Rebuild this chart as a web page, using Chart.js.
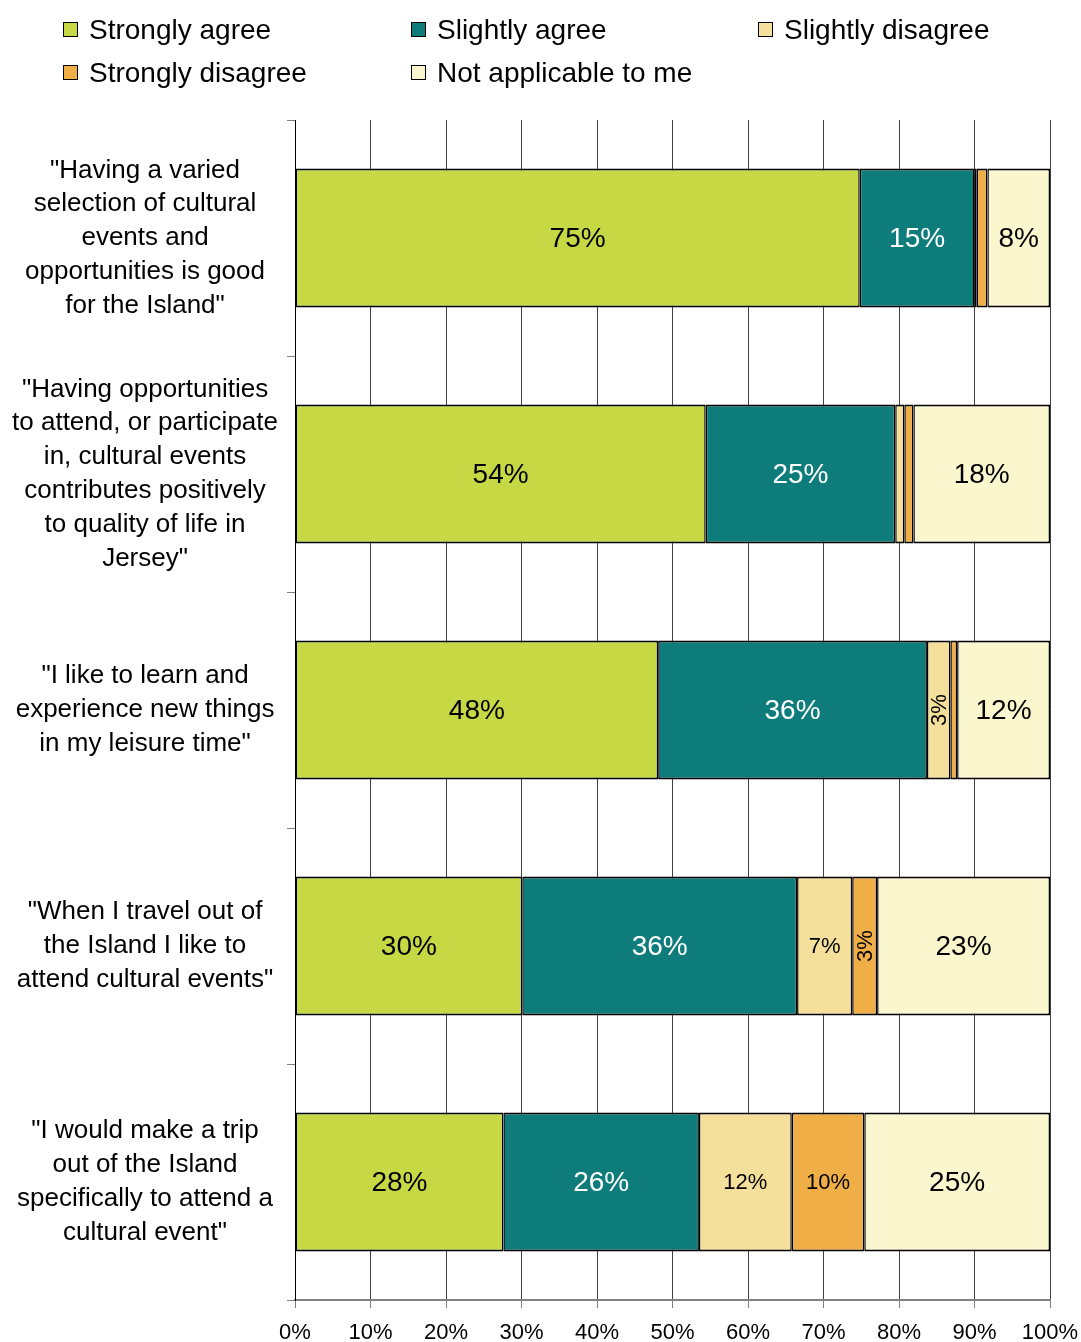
<!DOCTYPE html>
<html>
<head>
<meta charset="utf-8">
<script src="https://cdn.jsdelivr.net/npm/chart.js@4.4.1/dist/chart.umd.min.js"></script>
<style>
  html, body { margin: 0; padding: 0; background: #fff; overflow: hidden; }
  #wrap { position: relative; width: 1081px; height: 1342px; }
  #surveyChart { position: absolute; left: 0; top: 0; }
  #legend {
    position: absolute; left: 63px; top: 8px;
    display: grid; grid-template-columns: 348px 347px 300px; grid-auto-rows: 43px;
    font-family: "Liberation Sans", Arial, sans-serif; font-size: 28px; color: #000;
  }
  .item { display: flex; align-items: center; white-space: nowrap; }
  .swatch { width: 13px; height: 13px; border: 1px solid #000; margin-right: 11px; }
</style>
</head>
<body>
<div id="wrap">
  <canvas id="surveyChart" width="1081" height="1342"></canvas>
  <div id="legend"></div>
</div>
<script>
const statements = [
  ['"Having a varied', 'selection of cultural', 'events and', 'opportunities is good', 'for the Island"'],
  ['"Having opportunities', 'to attend, or participate', 'in, cultural events', 'contributes positively', 'to quality of life in', 'Jersey"'],
  ['"I like to learn and', 'experience new things', 'in my leisure time"'],
  ['"When I travel out of', 'the Island I like to', 'attend cultural events"'],
  ['"I would make a trip', 'out of the Island', 'specifically to attend a', 'cultural event"']
];

// percentages per statement, top to bottom
const stronglyAgree = [74.8, 54.4, 48.1, 30.1, 27.6];
const slightlyAgree = [15.2, 25.1, 35.6, 36.4, 25.9];
const slightlyDisagree = [0.3, 1.2, 3.1, 7.3, 12.3];
const stronglyDisagree = [1.4, 1.2, 0.9, 3.3, 9.6];
const notApplicable = [8.3, 18.1, 12.3, 22.9, 24.6];

const xTicks = [0, 10, 20, 30, 40, 50, 60, 70, 80, 90, 100];

const FONT = '"Liberation Sans", Arial, sans-serif';

const series = [
  { label: 'Strongly agree', data: stronglyAgree, color: '#C6D945', text: '#000', size: 28 },
  { label: 'Slightly agree', data: slightlyAgree, color: '#0E7C7B', text: '#fff', size: 28 },
  { label: 'Slightly disagree', data: slightlyDisagree, color: '#F4E09A', text: '#000', size: 22 },
  { label: 'Strongly disagree', data: stronglyDisagree, color: '#F0AE47', text: '#000', size: 22 },
  { label: 'Not applicable to me', data: notApplicable, color: '#FAF6CD', text: '#000', size: 28 }
];

const legendEl = document.getElementById('legend');
series.forEach(s => {
  const div = document.createElement('div');
  div.className = 'item';
  div.innerHTML = '<span class="swatch" style="background:' + s.color + '"></span>' + s.label;
  legendEl.appendChild(div);
});

// writes the percentage inside each segment
const segmentLabels = {
  id: 'segmentLabels',
  afterDatasetsDraw(chart) {
    const ctx = chart.ctx;
    chart.data.datasets.forEach((ds, di) => {
      const meta = chart.getDatasetMeta(di);
      meta.data.forEach((bar, i) => {
        const v = ds.data[i];
        if (v < 2.5) return;
        const cx = (bar.x + bar.base) / 2;
        const cy = bar.y;
        ctx.save();
        ctx.fillStyle = ds.labelColor;
        ctx.font = ds.labelSize + 'px ' + FONT;
        ctx.textAlign = 'center';
        ctx.textBaseline = 'middle';
        ctx.translate(cx, cy);
        if (v < 5) ctx.rotate(-Math.PI / 2);
        ctx.fillText(Math.round(v) + '%', 0, 1);
        ctx.restore();
      });
    });
  }
};

new Chart(document.getElementById('surveyChart'), {
  type: 'bar',
  data: {
    labels: statements,
    datasets: series.map(s => ({
      label: s.label,
      data: s.data,
      backgroundColor: s.color,
      borderColor: '#000',
      borderWidth: { top: 2, bottom: 2, left: 1.5, right: 1.5 },
      borderSkipped: false,
      barPercentage: 0.59,
      categoryPercentage: 1,
      labelColor: s.text,
      labelSize: s.size
    }))
  },
  options: {
    indexAxis: 'y',
    responsive: false,
    animation: false,
    layout: { padding: { top: 120, right: 31, left: 0, bottom: 0 } },
    plugins: {
      legend: { display: false },
      tooltip: { enabled: false }
    },
    scales: {
      x: {
        stacked: true,
        min: 0,
        max: 100,
        afterBuildTicks(scale) { scale.ticks = xTicks.map(v => ({ value: v })); },
        afterFit(scale) {
          scale.height = 42;
          scale.paddingLeft = 0;
          scale.paddingRight = 0;
        },
        ticks: {
          color: '#000',
          font: { family: FONT, size: 22 },
          padding: 12,
          maxRotation: 0,
          callback: v => v + '%'
        },
        grid: { color: '#404040', lineWidth: 1, tickColor: '#808080', tickLength: 8 },
        border: { color: '#808080', width: 2 }
      },
      y: {
        stacked: true,
        afterFit(scale) {
          scale.width = 295;
          scale.paddingTop = 0;
          scale.paddingBottom = 0;
        },
        ticks: {
          color: '#000',
          font: { family: FONT, size: 26, lineHeight: 1.3 },
          crossAlign: 'center',
          padding: 9
        },
        grid: { drawOnChartArea: false, color: '#808080', tickLength: 8 },
        border: { color: '#000', width: 1 }
      }
    }
  },
  plugins: [segmentLabels]
});
</script>
</body>
</html>
